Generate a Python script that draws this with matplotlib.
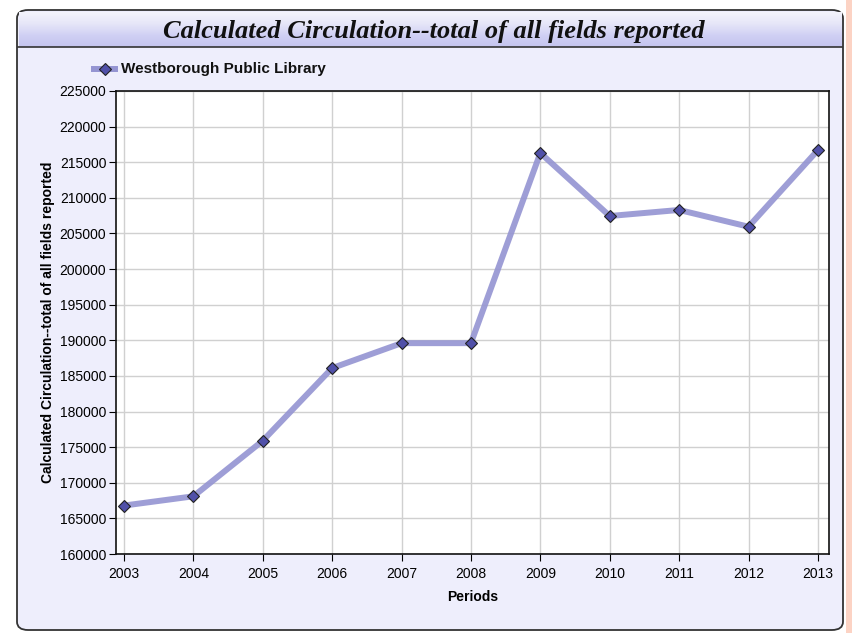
import numpy as np
import matplotlib.pyplot as plt
from matplotlib.patches import FancyBboxPatch, Rectangle
from matplotlib.colors import LinearSegmentedColormap

# du lieu doc tu hinh
nam = [2003, 2004, 2005, 2006, 2007, 2008, 2009, 2010, 2011, 2012, 2013]
luot_muon = [166800, 168100, 175900, 186100, 189600, 189600,
             216300, 207450, 208300, 205950, 216700]
ten_thu_vien = "Westborough Public Library"
y_ticks = list(range(160000, 225001, 5000))

W, H = 852, 633
fig = plt.figure(figsize=(W / 100, H / 100), dpi=100)
fig.patch.set_facecolor('white')
plt.rcParams['font.family'] = ['Liberation Sans', 'DejaVu Sans']


def fx(px):
    return px / W


def fy(py):
    return 1 - py / H


# dai mau cam o ria phai
fig.patches.append(Rectangle((fx(846), 0), fx(W - 846), 1, transform=fig.transFigure,
                             facecolor='#fcd3c4', edgecolor='none', zorder=-3))

# khung bo tron
khung = FancyBboxPatch((fx(17), fy(630)), fx(843 - 17), fy(10) - fy(630),
                       boxstyle="round,pad=0,rounding_size=0.013",
                       transform=fig.transFigure, facecolor='#eeeefc',
                       edgecolor='#333333', linewidth=1.3, zorder=-2)
fig.patches.append(khung)

# dai tieu de (gradient)
ax_t = fig.add_axes([fx(19), fy(47), fx(841 - 19), fy(12) - fy(47)])
grad = np.linspace(0, 1, 64).reshape(-1, 1)
cmap = LinearSegmentedColormap.from_list('g', ['#c4c4ee', '#d0d0f4', '#e6e6f8', '#f4f4fc'])
ax_t.imshow(grad, aspect='auto', cmap=cmap, extent=[0, 1, 0, 1], origin='lower')
ax_t.set_axis_off()
ax_t.text(0.505, 0.44, "Calculated Circulation--total of all fields reported",
          ha='center', va='center', fontsize=19, fontweight='bold', style='italic',
          family='Liberation Serif', color='#111111', transform=ax_t.transAxes)
fig.add_artist(plt.Line2D([fx(18), fx(842)], [fy(47), fy(47)],
                          transform=fig.transFigure, color='#333333', linewidth=1.2))

# vung ve
ax = fig.add_axes([fx(116), fy(554), fx(829 - 116), fy(91) - fy(554)])
ax.set_facecolor('white')
ax.plot(nam, luot_muon, color='#9494d2', linewidth=4.3, alpha=0.9,
        solid_capstyle='round', zorder=3)
ax.plot(nam, luot_muon, linestyle='none', marker='D', markersize=6.5,
        markerfacecolor='#5050a8', markeredgecolor='#222222', markeredgewidth=0.8,
        zorder=4)

ax.set_xlim(2002.885, 2013.16)
ax.set_ylim(160000, 225000)
ax.set_xticks(nam)
ax.set_xticklabels([str(n) for n in nam])
ax.set_yticks(y_ticks)
ax.set_yticklabels([str(v) for v in y_ticks])
ax.tick_params(labelsize=10, length=5, width=0.8, direction='out', pad=2)
ax.tick_params(axis='x', pad=4)
ax.grid(True, color='#d0d0d0', linewidth=1)
ax.set_axisbelow(True)
for s in ax.spines.values():
    s.set_linewidth(1.2)
    s.set_color('#111111')

ax.set_xlabel("Periods", fontsize=10, fontweight='bold', labelpad=7)
ax.set_ylabel("Calculated Circulation--total of all fields reported",
              fontsize=10, fontweight='bold', labelpad=3)

# chu thich
fig.add_artist(plt.Line2D([fx(94), fx(115)], [fy(69), fy(69)], transform=fig.transFigure,
                          color='#9494d2', linewidth=4.3))
fig.add_artist(plt.Line2D([fx(104.5)], [fy(69)], transform=fig.transFigure,
                          marker='D', markersize=6.5, markerfacecolor='#5050a8',
                          markeredgecolor='#222222', markeredgewidth=0.8))
fig.text(fx(121), fy(69), ten_thu_vien, fontsize=11, fontweight='bold',
         va='center', ha='left', color='#111111')

fig.savefig('out.png', dpi=100)
